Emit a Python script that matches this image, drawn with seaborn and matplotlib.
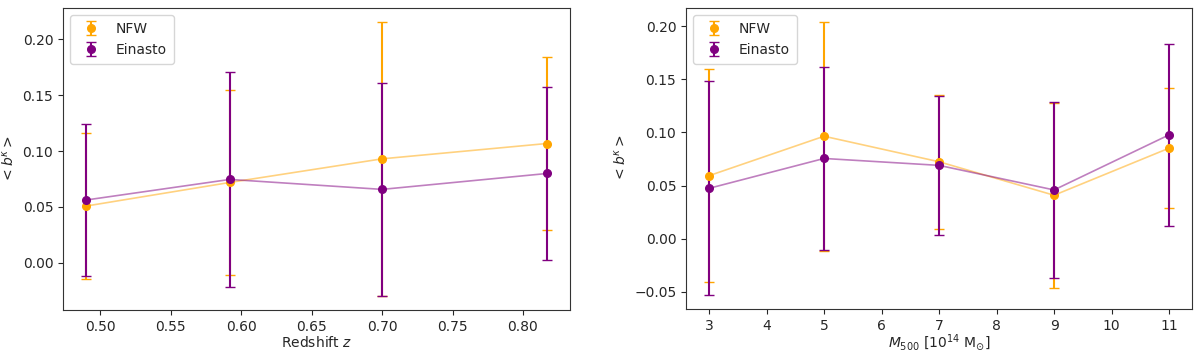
import matplotlib
matplotlib.use("Agg")
import matplotlib.pyplot as plt
import numpy as np
import pandas as pd
import seaborn as sn

# redshift bins
z_bins = [0.49, 0.592, 0.70, 0.817]
nfw_z = [0.0508, 0.0719, 0.0930, 0.1067]
nfw_z_err = [0.0654, 0.0823, 0.1225, 0.0776]
ein_z = [0.0562, 0.0746, 0.0657, 0.0799]
ein_z_err = [0.0680, 0.0962, 0.0955, 0.0775]

# mass bins (10^14 Msun)
m_bins = [3, 5, 7, 9, 11]
nfw_m = [0.0593, 0.0964, 0.0724, 0.0409, 0.0852]
nfw_m_err = [0.0999, 0.1077, 0.0632, 0.0872, 0.0564]
ein_m = [0.0474, 0.0755, 0.0690, 0.0459, 0.0977]
ein_m_err = [0.1006, 0.0860, 0.0650, 0.0825, 0.0853]

sn.set_style("white")
plt.rcParams['font.family'] = ['DejaVu Sans']
plt.rcParams['font.size'] = 10

fig = plt.figure(figsize=(12, 3.51), dpi=100)
ax1 = fig.add_axes([0.0525, 0.1168, 0.4225, 0.8604])
ax2 = fig.add_axes([0.5717, 0.1196, 0.4217, 0.8576])


def panel(ax, x, nfw, nfw_err, ein, ein_err, xlabel):
    df = pd.DataFrame({'x': x * 2, 'y': nfw + ein,
                       'model': ['NFW'] * len(x) + ['Einasto'] * len(x)})
    sn.lineplot(data=df, x='x', y='y', hue='model',
                palette={'NFW': 'orange', 'Einasto': 'purple'},
                alpha=0.5, lw=1.2, legend=False, ax=ax)
    ax.errorbar(x, nfw, yerr=nfw_err, fmt='o', color='orange', ms=5.5,
                capsize=3.5, elinewidth=1.5, label='NFW')
    ax.errorbar(x, ein, yerr=ein_err, fmt='o', color='purple', ms=5.5,
                capsize=3.5, elinewidth=1.5, label='Einasto')
    ax.set_xlabel(xlabel, fontsize=10, labelpad=1)
    ax.set_ylabel(r'$< b^{\kappa} >$', fontsize=10)
    ax.legend(loc='upper left', fontsize=10, borderpad=0.5)
    ax.tick_params(axis='both', which='both', direction='out', length=3.5,
                   left=True, bottom=True, labelsize=10)
    for s in ax.spines.values():
        s.set_color('#333333')


panel(ax1, z_bins, nfw_z, nfw_z_err, ein_z, ein_z_err, r'Redshift $z$')
panel(ax2, m_bins, nfw_m, nfw_m_err, ein_m, ein_m_err,
      r'$M_{500}$ [$10^{14}$ M$_{\odot}$]')
ax2.xaxis.labelpad = 0
ax2.set_xticks(np.arange(3, 12, 1))

fig.savefig('out.png', dpi=100)
